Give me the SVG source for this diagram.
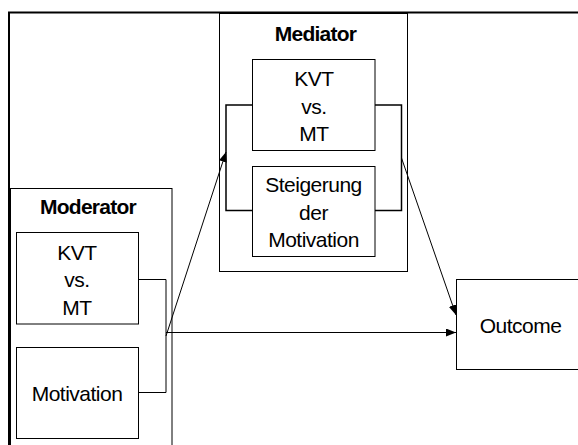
<svg xmlns="http://www.w3.org/2000/svg" width="578" height="445" viewBox="0 0 578 445">
  <style>
    .box { fill: #fff; stroke: #000; stroke-width: 1; }
    .frame { fill: none; stroke: #000; stroke-width: 2; }
    .bracket { fill: none; stroke: #000; stroke-width: 1.5; }
    .edge { fill: none; stroke: #000; stroke-width: 1; }
    text { font-family: "Liberation Sans", Arial, sans-serif; font-size: 21px; fill: #000; text-anchor: middle; letter-spacing: -0.5px; }
    .title { font-weight: bold; letter-spacing: -0.75px; }
  </style>
  <defs>
    <marker id="arrow" markerUnits="userSpaceOnUse" markerWidth="10" markerHeight="8" refX="10" refY="4" orient="auto">
      <path d="M0,0 L10,4 L0,8 Z" fill="#000"/>
    </marker>
  </defs>

  <rect width="578" height="445" fill="#fff"/>

  <!-- outer frame: top and left border only -->
  <path class="frame" d="M9,445 V12.5 H578"/>

  <g id="mediator">
    <rect class="box" x="219.5" y="13.5" width="188" height="258"/>
    <text class="title" x="315.5" y="41">Mediator</text>
  </g>

  <g id="mediator-kvt">
    <rect class="box" x="252.5" y="59.5" width="122.5" height="91"/>
    <text x="314" y="86">KVT</text>
    <text x="314" y="113.5">vs.</text>
    <text x="314" y="141">MT</text>
  </g>

  <g id="mediator-steigerung">
    <rect class="box" x="252.5" y="166.5" width="122.5" height="90"/>
    <text x="313.5" y="192">Steigerung</text>
    <text x="313.5" y="219.5">der</text>
    <text x="313.5" y="247">Motivation</text>
  </g>

  <g id="moderator">
    <rect class="box" x="10.5" y="188.5" width="161.5" height="270"/>
    <text class="title" x="88" y="214">Moderator</text>
  </g>

  <g id="moderator-kvt">
    <rect class="box" x="16.5" y="232.5" width="122" height="91.5"/>
    <text x="77" y="259.5">KVT</text>
    <text x="77" y="287">vs.</text>
    <text x="77" y="314.5">MT</text>
  </g>

  <g id="moderator-motivation">
    <rect class="box" x="16.5" y="347.5" width="122" height="91"/>
    <text x="77" y="401">Motivation</text>
  </g>

  <g id="outcome">
    <rect class="box" x="456.5" y="279.5" width="130" height="90"/>
    <text x="520.5" y="332.5">Outcome</text>
  </g>

  <g id="connectors">
    <!-- brackets joining the paired boxes -->
    <path class="edge" d="M138.5,279.5 H166 V392.5 H138.5"/>
    <path class="bracket" d="M252.5,105 H226 V210.5 H252.5"/>
    <path class="bracket" d="M375,105 H401.5 V210.5 H375"/>
    <!-- arrows -->
    <line class="edge" x1="166" y1="336" x2="226" y2="152" marker-end="url(#arrow)"/>
    <line class="edge" x1="166" y1="332.5" x2="456" y2="332.5" marker-end="url(#arrow)"/>
    <line class="edge" x1="401.5" y1="158" x2="456" y2="315" marker-end="url(#arrow)"/>
  </g>
</svg>
